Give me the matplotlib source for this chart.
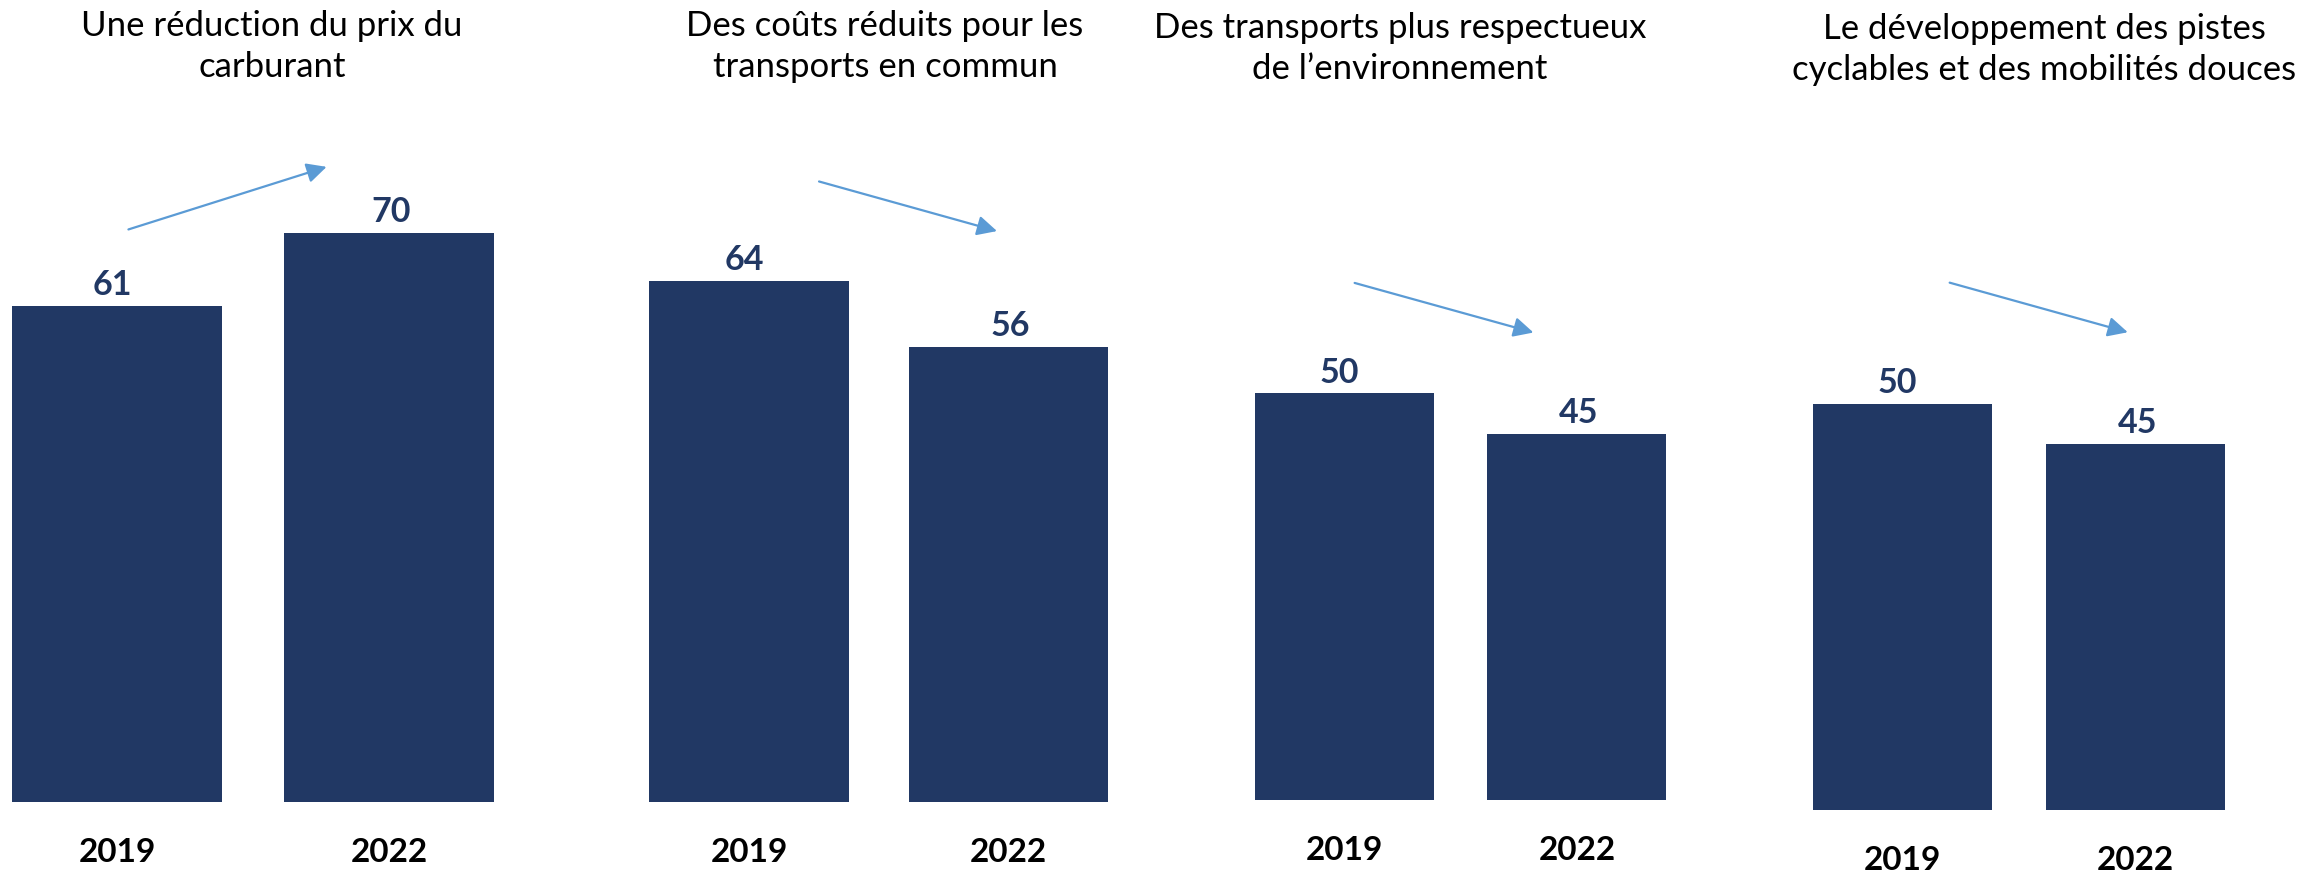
import matplotlib
matplotlib.use("Agg")
import matplotlib.pyplot as plt

# ---------------- data ----------------
years = ["2019", "2022"]
titles = [
    ["Une réduction du prix du", "carburant"],
    ["Des coûts réduits pour les", "transports en commun"],
    ["Des transports plus respectueux", "de l\u2019environnement"],
    ["Le développement des pistes", "cyclables et des mobilités douces"],
]
values_fuel = [61, 70]
values_transit = [64, 56]
values_environment = [50, 45]
values_cycling = [50, 45]
panel_values = [values_fuel, values_transit, values_environment, values_cycling]

# ---------------- style / layout ----------------
W, H, DPI = 2318, 871, 100
BAR_COLOR = "#213864"
LABEL_COLOR = "#213864"
ARROW_COLOR = "#5B9BD5"
FONT = ["Lato", "DejaVu Sans"]
PX_PER_UNIT = 8.13
YMAX = 90

# per panel: first bar centre (px), bar spacing (px), zero line (px from top)
panel_geom = [(117.0, 272.2, 801.8), (749.0, 259.4, 801.8),
              (1344.4, 232.5, 800.0), (1902.7, 232.5, 810.3)]
# arrow start/end in data coords of each panel (x in bar index, y in value units)
arrow_geom = [((0.042, 70.4), (0.77, 78.1)),
              ((0.27, 76.3), (0.956, 70.2)),
              ((0.044, 63.6), (0.813, 57.5)),
              ((0.202, 64.9), (0.968, 58.8))]
# title centre x (px) and baselines (px from top)
title_geom = [(272, 36.0, 77.0), (885, 36.0, 77.0),
              (1400, 37.7, 78.7), (2044, 39.3, 80.5)]
# small horizontal nudges of value labels (px) for first / second bar
label_nudge = [-5, 2]

fig = plt.figure(figsize=(W / DPI, H / DPI), dpi=DPI)
fig.patch.set_facecolor("white")

px2pt = 72.0 / DPI

for vals, (c0, s, y0), (a0, a1), (tx, b1, b2), tl in zip(
        panel_values, panel_geom, arrow_geom, title_geom, titles):
    left = (c0 - 0.5 * s) / W
    width = 2 * s / W
    bottom = (H - y0) / H
    height = YMAX * PX_PER_UNIT / H
    ax = fig.add_axes([left, bottom, width, height])
    ax.set_xlim(-0.5, 1.5)
    ax.set_ylim(0, YMAX)
    ax.set_axis_off()
    ax.patch.set_alpha(0)

    xs = list(range(len(vals)))
    ax.bar(xs, vals, width=0.77, color=BAR_COLOR, edgecolor="none")

    for x, v in zip(xs, vals):
        ax.annotate(str(v), xy=(x, v), xytext=(label_nudge[x] * px2pt, 11 * px2pt),
                    textcoords="offset points", ha="center", va="baseline",
                    fontsize=24.5, fontweight="bold", color=LABEL_COLOR,
                    family=FONT, annotation_clip=False)
        ax.annotate(years[x], xy=(x, 0), xycoords=("data", "axes fraction"),
                    xytext=(0, -60 * px2pt), textcoords="offset points",
                    ha="center", va="baseline", fontsize=24,
                    fontweight="bold", color="black", family=FONT,
                    annotation_clip=False)

    ax.annotate("", xy=a1, xytext=a0,
                arrowprops=dict(arrowstyle="-|>", color=ARROW_COLOR, lw=1.6,
                                mutation_scale=30, shrinkA=0, shrinkB=0),
                annotation_clip=False)

    fig.text(tx / W, 1 - b1 / H, tl[0], ha="center", va="baseline",
             fontsize=25, color="black", family=FONT)
    fig.text(tx / W, 1 - b2 / H, tl[1], ha="center", va="baseline",
             fontsize=25, color="black", family=FONT)

fig.savefig("out.png", dpi=DPI, facecolor="white")
